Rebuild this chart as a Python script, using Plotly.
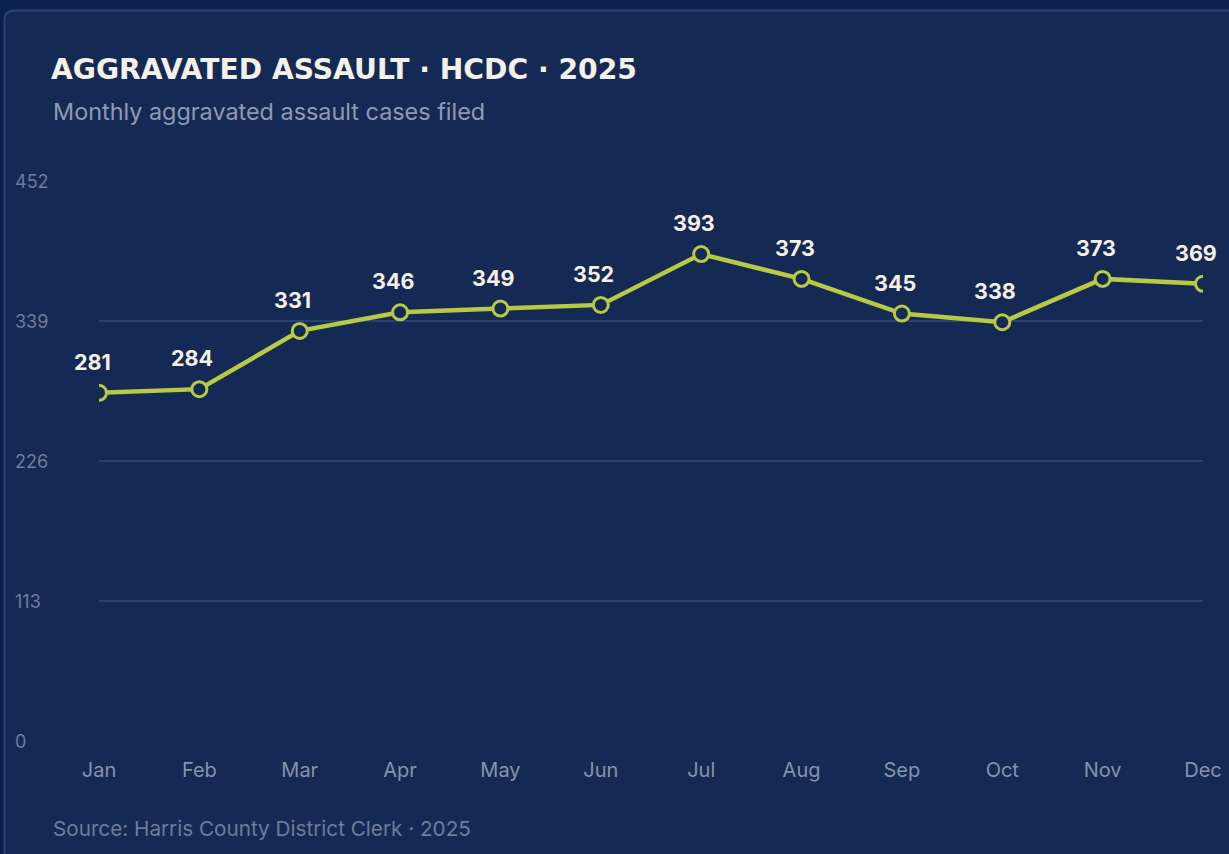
import plotly.graph_objects as go

# ── Data ───────────────────────────────────────────
months = ["Jan", "Feb", "Mar", "Apr", "May", "Jun",
          "Jul", "Aug", "Sep", "Oct", "Nov", "Dec"]
cases = [281, 284, 331, 346, 349, 352, 393, 373, 345, 338, 373, 369]
y_ticks = [0, 113, 226, 339, 452]

# ── Colours ────────────────────────────────────────
PAGE_BG = "#0b2150"
CARD_BG = "#142a55"
CARD_EDGE = "#2c4371"
GRID = "#29416d"
LINE = "#b8c943"
TITLE = "#f6f1e6"
SUB = "#8e9ab4"
TICK = "#8592ad"
YTICK = "#6d7c9c"
FONT = "Inter, 'Noto Sans', sans-serif"
TITLE_FONT = "'DejaVu Sans', Inter, sans-serif"

# plot area in pixels (used to place the card + text)
W, H = 1229, 854
L, R, T, B = 99, 26, 181, 113
pw, ph = W - L - R, H - T - B


def px_x(p):
    return (p - L) / pw


def px_y(p):
    return (H - B - p) / ph


fig = go.Figure()
fig.add_trace(go.Scatter(
    x=months, y=cases, mode="lines+markers",
    line=dict(color=LINE, width=4.5),
    marker=dict(size=15, color=CARD_BG, line=dict(color=LINE, width=3)),
    hoverinfo="x+y", showlegend=False,
))

# value labels above points
for m, v in zip(months, cases):
    fig.add_annotation(x=m, y=v, text=f"<b>{v}</b>", showarrow=False,
                       yshift=31, xshift=-7,
                       font=dict(family=FONT, size=21.5, color=TITLE))

# y tick labels, left aligned at the card edge
for t in y_ticks:
    fig.add_annotation(x=px_x(13), xref="paper", y=t, yref="y", text=str(t),
                       showarrow=False, xanchor="left", yanchor="middle",
                       font=dict(family=FONT, size=18, color=YTICK))

# subtitle + source
fig.add_annotation(x=px_x(51), xref="paper", y=px_y(111), yref="paper",
                   text="Monthly aggravated assault cases filed",
                   showarrow=False, xanchor="left", yanchor="middle",
                   font=dict(family=FONT, size=23.4, color=SUB))
fig.add_annotation(x=px_x(51), xref="paper", y=px_y(829), yref="paper",
                   text="Source: Harris County District Clerk · 2025",
                   showarrow=False, xanchor="left", yanchor="middle",
                   font=dict(family=FONT, size=20.7, color=YTICK))

# card with rounded top-left corner
x0, x1 = px_x(4.5), px_x(1300)
y0, y1 = px_y(920), px_y(10.5)
rx, ry = 10 / pw, 10 / ph
path = (f"M {x0},{y0} L {x0},{y1 - ry} Q {x0},{y1} {x0 + rx},{y1} "
        f"L {x1},{y1} L {x1},{y0} Z")
fig.add_shape(type="path", path=path, xref="paper", yref="paper",
              fillcolor=CARD_BG, line=dict(color=CARD_EDGE, width=2),
              layer="below")

fig.update_layout(
    width=W, height=H,
    paper_bgcolor=PAGE_BG, plot_bgcolor="rgba(0,0,0,0)",
    margin=dict(l=L, r=R, t=T, b=B, autoexpand=False),
    title=dict(text="<b>AGGRAVATED ASSAULT · HCDC · 2025</b>",
               x=51 / W, xanchor="left", xref="container",
               y=1 - 69 / H, yanchor="middle", yref="container",
               font=dict(family=TITLE_FONT, size=28.2, color=TITLE)),
    font=dict(family=FONT),
    xaxis=dict(range=[0, len(months) - 1], showgrid=False, zeroline=False,
               showline=False, ticks="", ticklabelstandoff=15,
               automargin=False,
               tickfont=dict(family=FONT, size=20, color=TICK)),
    yaxis=dict(range=[0, y_ticks[-1]], tickvals=y_ticks, showticklabels=False,
               automargin=False,
               gridcolor=GRID, gridwidth=2, zeroline=False, showline=False),
)

# drop the default 8px body margin so the figure sits at the window origin
fig.write_html("out.html", config={"displayModeBar": False}, post_script=(
    "document.body.style.margin='0';"
    "document.body.style.background='" + PAGE_BG + "';"))
